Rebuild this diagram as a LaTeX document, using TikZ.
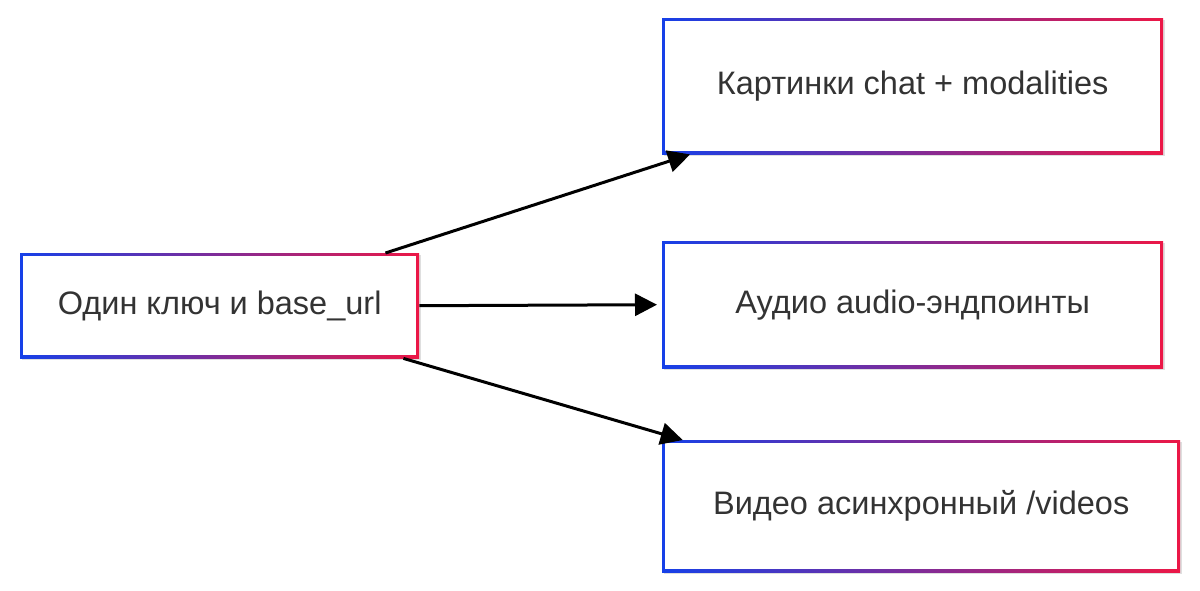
\documentclass[tikz,border=0pt]{standalone}
\usepackage{fontspec}
\setmainfont{Liberation Sans}
\usetikzlibrary{arrows.meta,shadows,calc}
\definecolor{bl}{HTML}{1640E8}
\definecolor{rd}{HTML}{EC1746}
\definecolor{tx}{HTML}{333333}
\begin{document}
\begin{tikzpicture}[x=1pt,y=-1pt,
 box/.style={rectangle,anchor=north west,left color=bl,right color=rd,draw=none,
  drop shadow={shadow xshift=2pt,shadow yshift=-2pt,opacity=0.25},
  font=\fontsize{32.5}{38}\selectfont,text=tx,
  path picture={\fill[white] ([shift={(3pt,-3pt)}]path picture bounding box.north west) rectangle ([shift={(-3pt,3pt)}]path picture bounding box.south east);}},
 arr/.style={line width=3pt,-{Triangle[length=22pt,width=22pt]}}]
\useasboundingbox (0,0) rectangle (1200,590);
\node[box,minimum width=399pt,minimum height=105pt] (a) at (20,253) {Один ключ и base\_url};
\node[box,minimum width=501pt,minimum height=136pt] (b) at (662,18) {Картинки chat + modalities};
\node[box,minimum width=501pt,minimum height=127pt] (c) at (662,241) {Аудио audio-эндпоинты};
\node[box,minimum width=518pt,minimum height=132pt] (d) at (662,440) {Видео асинхронный /videos};
\draw[arr] ($(a.north west)!0.915!(a.north east)$) -- ($(b.south west)!0.056!(b.south east)$);
\draw[arr] (a.east) -- ($(c.west)+(-5pt,0)$);
\draw[arr] ($(a.south west)!0.96!(a.south east)$) -- ($(d.north west)!0.04!(d.north east)$);
\end{tikzpicture}
\end{document}
